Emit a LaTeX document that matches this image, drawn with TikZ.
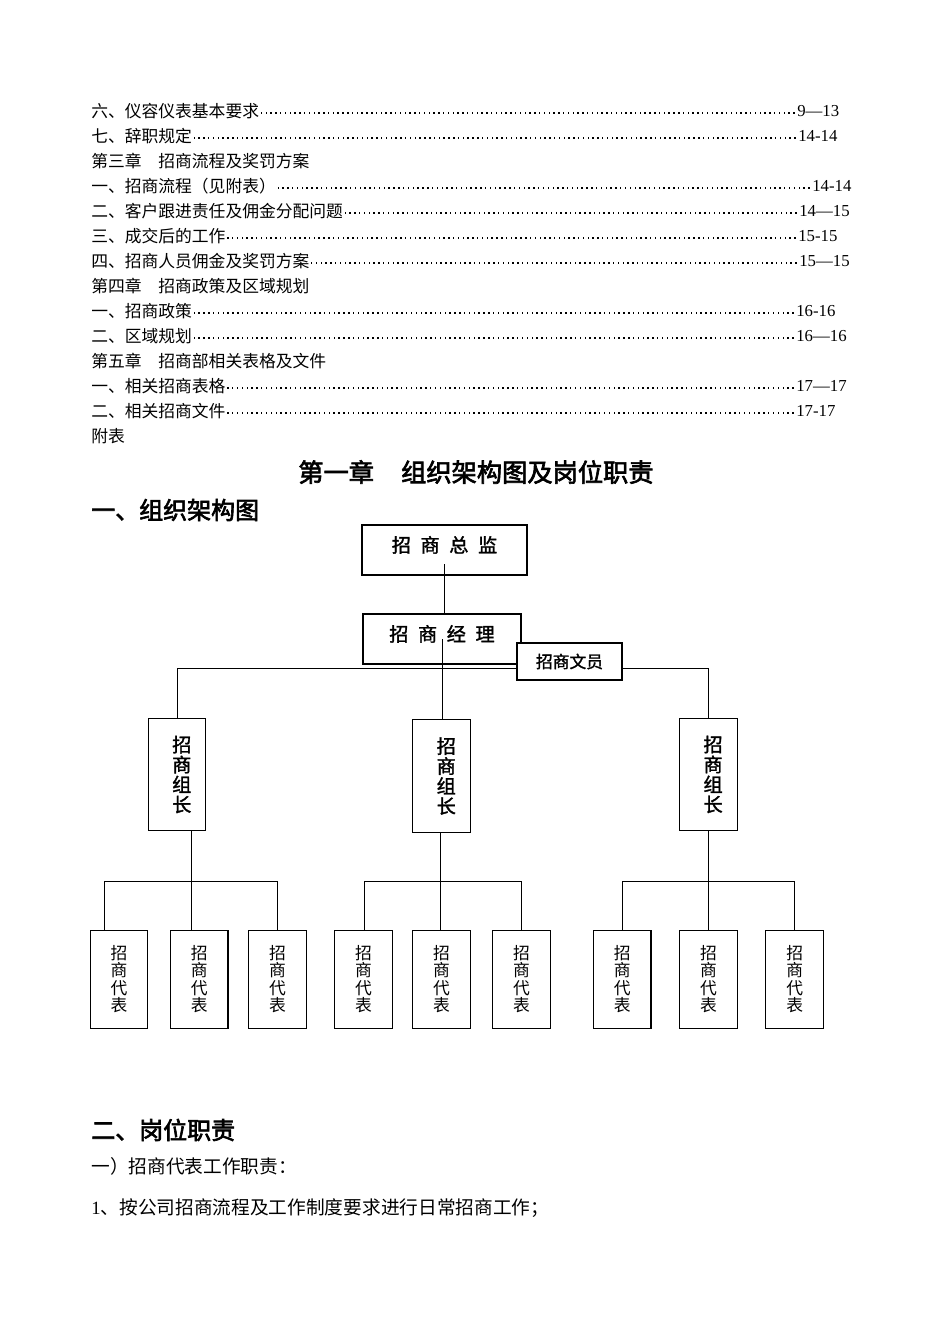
\documentclass[tikz,border=0pt]{standalone}
\usepackage{fontspec}
\setmainfont{Noto Sans CJK SC}
\newfontfamily\numfont{Liberation Serif}
\newfontfamily\heiA{Noto Sans CJK SC}[FakeBold=2.6]
\newfontfamily\heiB{Noto Sans CJK SC}[FakeBold=1.6]
\newlength\pxu
\setlength\pxu{0.626pt}
\newcommand\tocdots{\xleaders\hbox to 3pt{\hss\raisebox{2.4pt}{\rule{0.9pt}{0.9pt}}\hss}\hfill}

\begin{document}
\begin{tikzpicture}[x=\pxu, y=-\pxu,
  tocitem/.style={anchor=west, inner sep=0pt, font=\fontsize{10.5pt}{12pt}\selectfont},
  tocpage/.style={anchor=west, inner sep=0pt, font=\fontsize{10.5pt}{12pt}\selectfont\numfont},
  chaptitle/.style={anchor=west, inner sep=0pt, font=\fontsize{15.8pt}{18pt}\selectfont\heiA},
  heading/.style={anchor=west, inner sep=0pt, font=\fontsize{15pt}{18pt}\selectfont\heiA},
  bodyline/.style={anchor=west, inner sep=0pt, font=\fontsize{11.7pt}{14pt}\selectfont},
  topbox/.style={draw, line width=0.7pt, minimum width=103.3pt, minimum height=31.3pt, inner sep=0pt,
    text height=0.88em, text depth=0.6em, font=\fontsize{12pt}{14pt}\selectfont\heiB},
  mgrbox/.style={topbox, minimum width=98.9pt},
  clerkbox/.style={draw, line width=0.7pt, fill=white, minimum width=65.7pt, minimum height=23.2pt,
    inner sep=0pt, font=\fontsize{10.5pt}{12pt}\selectfont\heiB},
  leadbox/.style={draw, line width=0.7pt, minimum width=36pt, minimum height=70.4pt, align=center,
    inner sep=0pt, font=\fontsize{12pt}{12.5pt}\selectfont\heiB},
  repbox/.style={draw, line width=0.7pt, minimum width=36.1pt, minimum height=61.5pt, align=center,
    inner sep=0pt, font=\fontsize{10.5pt}{11pt}\selectfont},
  link/.style={line width=0.6pt}]
\path[fill=white] (0,0) rectangle (950,1344);
\useasboundingbox (0,0) rectangle (950,1344);

%%%%%%%%%%%%%%%%%%%
\node[tocitem] (toc1) at (91,111) {\makebox[705\pxu][l]{六、仪容仪表基本要求\tocdots}};
\node[tocpage] (pg1) at (797,111) {9—13};
\node[tocitem] (toc2) at (91,136) {\makebox[706\pxu][l]{七、辞职规定\tocdots}};
\node[tocpage] (pg2) at (798,136) {14-14};
\node[tocitem] (toc3) at (91,161) {第三章　招商流程及奖罚方案};
\node[tocitem] (toc4) at (91,186) {\makebox[720\pxu][l]{一、招商流程（见附表）\tocdots}};
\node[tocpage] (pg4) at (812,186) {14-14};
\node[tocitem] (toc5) at (91,211) {\makebox[707\pxu][l]{二、客户跟进责任及佣金分配问题\tocdots}};
\node[tocpage] (pg5) at (799,211) {14—15};
\node[tocitem] (toc6) at (91,236) {\makebox[706\pxu][l]{三、成交后的工作\tocdots}};
\node[tocpage] (pg6) at (798,236) {15-15};
\node[tocitem] (toc7) at (91,261) {\makebox[707\pxu][l]{四、招商人员佣金及奖罚方案\tocdots}};
\node[tocpage] (pg7) at (799,261) {15—15};
\node[tocitem] (toc8) at (91,286) {第四章　招商政策及区域规划};
\node[tocitem] (toc9) at (91,311) {\makebox[704\pxu][l]{一、招商政策\tocdots}};
\node[tocpage] (pg9) at (796,311) {16-16};
\node[tocitem] (toc10) at (91,336) {\makebox[704\pxu][l]{二、区域规划\tocdots}};
\node[tocpage] (pg10) at (796,336) {16—16};
\node[tocitem] (toc11) at (91,361) {第五章　招商部相关表格及文件};
\node[tocitem] (toc12) at (91,386) {\makebox[704\pxu][l]{一、相关招商表格\tocdots}};
\node[tocpage] (pg12) at (796,386) {17—17};
\node[tocitem] (toc13) at (91,411) {\makebox[704\pxu][l]{二、相关招商文件\tocdots}};
\node[tocpage] (pg13) at (796,411) {17-17};
\node[tocitem] (toc14) at (91,436) {附表};

%%%%%%%%%%%%%%%%%%%
\node[chaptitle] (chap) at (298,472) {第一章\hspace{17pt}组织架构图及岗位职责};
\node[heading] (sec1) at (91,510) {一、组织架构图};
\node[heading] (sec2) at (91,1130) {二、岗位职责};
\node[bodyline] (duty) at (91,1166) {一）招商代表工作职责：};
\node[bodyline] (item1) at (91,1208) {{\numfont 1}、按公司招商流程及工作制度要求进行日常招商工作；};

%%%%%%%%%%%%%%%%%%%
\node[topbox] (chief) at (444.5,550) {招\hspace{6pt}商\hspace{6pt}总\hspace{6pt}监};
\node[mgrbox] (mgr) at (442,639) {招\hspace{6pt}商\hspace{6pt}经\hspace{6pt}理};
\node[leadbox] (lead1) at (177,774.5) {\hspace*{6pt}招\\\hspace*{6pt}商\\\hspace*{6pt}组\\\hspace*{6pt}长};
\node[leadbox] (lead2) at (441.5,776) {\hspace*{6pt}招\\\hspace*{6pt}商\\\hspace*{6pt}组\\\hspace*{6pt}长};
\node[leadbox] (lead3) at (708.3,774.4) {\hspace*{6pt}招\\\hspace*{6pt}商\\\hspace*{6pt}组\\\hspace*{6pt}长};
\node[repbox] (rep1) at (119,979.2) {招\\商\\代\\表};
\node[repbox] (rep2) at (199.2,979.2) {招\\商\\代\\表};
\node[repbox] (rep3) at (277.4,979.2) {招\\商\\代\\表};
\node[repbox] (rep4) at (363.5,979.2) {招\\商\\代\\表};
\node[repbox] (rep5) at (441.6,979.2) {招\\商\\代\\表};
\node[repbox] (rep6) at (521.5,979.2) {招\\商\\代\\表};
\node[repbox] (rep7) at (622.2,979.2) {招\\商\\代\\表};
\node[repbox] (rep8) at (708.5,979.2) {招\\商\\代\\表};
\node[repbox] (rep9) at (794.7,979.2) {招\\商\\代\\表};

%%%%%%%%%%%%%%%%%%%
\coordinate (g1l) at (104.5,881);
\coordinate (g1m) at (191.3,881);
\coordinate (g1r) at (277,881);
\coordinate (g2l) at (364,881);
\coordinate (g2m) at (440.6,881);
\coordinate (g2r) at (521,881);
\coordinate (g3l) at (622.4,881);
\coordinate (g3m) at (708.7,881);
\coordinate (g3r) at (794.5,881);
\draw[link] ([yshift=-9pt]chief.center) -- (chief.center |- mgr.north);
\draw[link] (mgr.center) -- (mgr.center |- lead2.north);
\draw[link] (lead1.north) -- ++(0,-49) -| (lead3.north);
\draw[link] (g1l |- rep1.north) -- (g1l) -- (g1r) -- (g1r |- rep3.north);
\draw[link] (g1m |- lead1.south) -- (g1m |- rep2.north);
\draw[link] (g2l |- rep4.north) -- (g2l) -- (g2r) -- (g2r |- rep6.north);
\draw[link] (g2m |- lead2.south) -- (g2m |- rep5.north);
\draw[link] (g3l |- rep7.north) -- (g3l) -- (g3r) -- (g3r |- rep9.north);
\draw[link] (g3m |- lead3.south) -- (g3m |- rep8.north);

\node[clerkbox] (clerk) at (569.5,661.5) {招商文员};
\end{tikzpicture}
\end{document}
